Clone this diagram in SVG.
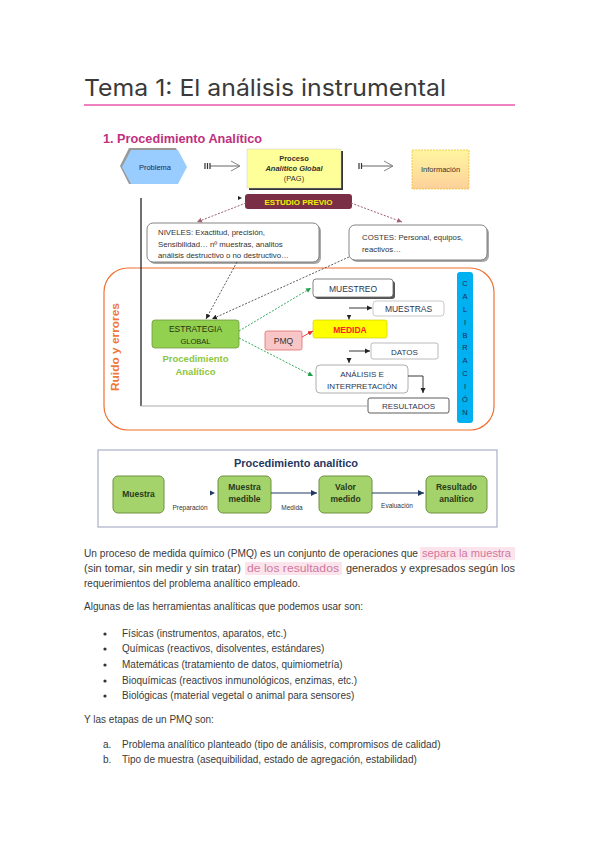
<svg xmlns="http://www.w3.org/2000/svg" width="599" height="848" viewBox="0 0 599 848">
<style>
.t{font-family:"Liberation Sans",Arial,sans-serif;fill:#333}
.b{font-family:"Liberation Sans",Arial,sans-serif;font-size:10px;fill:#3a3a3a}
.pk{fill:#d0789e}
.c{text-anchor:middle}
.box{fill:#fff;stroke:#666;stroke-width:0.8}
.sh{fill:#aaa}
.g2{fill:#a3d36a;stroke:#6f9040;stroke-width:1}
.bt{font-family:"Liberation Sans",Arial,sans-serif;font-size:8.5px;fill:#2b3a1a;text-anchor:middle;font-weight:bold}
</style>
<defs>
<marker id="ak" markerWidth="6" markerHeight="6" refX="5" refY="3" orient="auto" markerUnits="userSpaceOnUse"><path d="M0,0.5 L5,3 L0,5.5z" fill="#222"/></marker>
<marker id="ag" markerWidth="6" markerHeight="6" refX="5" refY="3" orient="auto" markerUnits="userSpaceOnUse"><path d="M0,0.5 L5,3 L0,5.5z" fill="#22a050"/></marker>
<marker id="ar" markerWidth="6" markerHeight="6" refX="5" refY="3" orient="auto" markerUnits="userSpaceOnUse"><path d="M0,0.5 L5,3 L0,5.5z" fill="#e03030"/></marker>
<marker id="am" markerWidth="6" markerHeight="6" refX="5" refY="3" orient="auto" markerUnits="userSpaceOnUse"><path d="M0,0.5 L5,3 L0,5.5z" fill="#a06070"/></marker>
<marker id="an" markerWidth="7" markerHeight="7" refX="6" refY="3.5" orient="auto" markerUnits="userSpaceOnUse"><path d="M0,0.5 L6,3.5 L0,6.5z" fill="#1f3864"/></marker>
<linearGradient id="gi" x1="0" y1="0" x2="0" y2="1"><stop offset="0" stop-color="#fff6a0"/><stop offset="1" stop-color="#fdd09a"/></linearGradient>
</defs>
<rect width="599" height="848" fill="#fff"/>

<!-- title -->
<g id="title">
<text x="84" y="96" font-family="Inter,'Noto Sans',sans-serif" font-size="23.5" fill="#3a3a3a" textLength="362" lengthAdjust="spacingAndGlyphs">Tema 1: El análisis instrumental</text>
<rect x="84" y="104" width="431" height="2" fill="#ee82c0"/>
</g>
<g id="heading">
<text x="103" y="143" class="t" font-size="12.5" font-weight="bold" style="fill:#c0307f" textLength="159" lengthAdjust="spacingAndGlyphs">1.  Procedimiento Analítico</text>
</g>

<!-- top diagram nodes -->
<g id="problema">
<polygon points="120,166 129,148 176,148 185,166 176,184 129,184" fill="#999"/>
<polygon points="122,167 131,150 178,150 187,167 178,184 131,184" fill="#99ccff"/>
<text x="155" y="170" class="t c" font-size="7.5" style="fill:#1a2a50">Problema</text>
</g>
<g id="proceso">
<rect x="249" y="151" width="94" height="39" fill="#333"/>
<rect x="247" y="149" width="94" height="39" fill="#ffff99" stroke="#ccc" stroke-width="0.5"/>
<text x="294" y="161" class="t c" font-size="7.5" font-weight="bold">Proceso</text>
<text x="294" y="170.5" class="t c" font-size="7.5" font-weight="bold" font-style="italic">Analítico Global</text>
<text x="294" y="180.5" class="t c" font-size="7.5">(PAG)</text>
</g>
<g id="informacion">
<rect x="412" y="150" width="57" height="39" fill="url(#gi)" stroke="#f0c030" stroke-width="0.8" stroke-dasharray="2,1"/>
<text x="440.5" y="172" class="t c" font-size="7.5">Información</text>
</g>
<g id="estudio">
<rect x="245" y="194" width="107" height="15" rx="3" fill="#7a2f47"/>
<text x="298.5" y="205" class="t c" font-size="8" font-weight="bold" style="fill:#f2f000">ESTUDIO PREVIO</text>
</g>
<g id="niveles">
<rect x="149" y="225" width="172" height="39" rx="6" class="sh"/>
<rect x="147" y="223" width="172" height="39" rx="6" class="box"/>
<text x="158" y="235" class="t" font-size="7.8">NIVELES: Exactitud, precisión,</text>
<text x="158" y="246.5" class="t" font-size="7.8">Sensibilidad… nº muestras, analitos</text>
<text x="158" y="258" class="t" font-size="7.8">análisis destructivo o no destructivo…</text>
</g>
<g id="costes">
<rect x="351" y="227" width="138" height="35" rx="6" class="sh"/>
<rect x="349" y="225" width="138" height="35" rx="6" class="box"/>
<text x="362" y="240" class="t" font-size="7.8">COSTES: Personal, equipos,</text>
<text x="362" y="252" class="t" font-size="7.8">reactivos…</text>
</g>
<g id="ruido">
<rect x="104" y="268" width="390" height="162" rx="24" fill="none" stroke="#f07030" stroke-width="1.2"/>
<text transform="translate(119,347) rotate(-90)" class="t c" font-size="10" font-weight="bold" style="fill:#f07838" textLength="88" lengthAdjust="spacingAndGlyphs">Ruido y errores</text>
</g>
<g id="estrategia">
<rect x="152" y="320" width="87" height="28" rx="3" fill="#92d050" stroke="#6f9b3a" stroke-width="0.8"/>
<text x="195.5" y="332" class="t c" font-size="8.5" style="fill:#263510">ESTRATEGIA</text>
<text x="195.5" y="343.5" class="t c" font-size="7.5" style="fill:#263510">GLOBAL</text>
<text x="195.5" y="362" class="t c" font-size="9.5" font-weight="bold" style="fill:#8cc63f">Procedimiento</text>
<text x="195.5" y="375" class="t c" font-size="9.5" font-weight="bold" style="fill:#8cc63f">Analítico</text>
</g>
<g id="pmq">
<rect x="265" y="331" width="37" height="19" rx="2" fill="#f8c6c6" stroke="#e07070" stroke-width="0.8"/>
<text x="283.5" y="344" class="t c" font-size="8.5">PMQ</text>
</g>
<g id="muestreo">
<rect x="315" y="281" width="80" height="18" rx="3" fill="#555"/>
<rect x="313" y="279" width="80" height="18" rx="3" class="box"/>
<text x="353" y="291.5" class="t c" font-size="8.5" style="fill:#2a3550">MUESTREO</text>
</g>
<g id="muestras">
<rect x="373" y="301" width="71" height="15" rx="3" fill="#fff" stroke="#bbb" stroke-width="0.8"/>
<text x="408.5" y="312" class="t c" font-size="8.5" style="fill:#2a3550">MUESTRAS</text>
</g>
<g id="medida">
<rect x="313" y="320" width="74" height="18" rx="2" fill="#ffff00" stroke="#c8c800" stroke-width="0.6"/>
<text x="350" y="332.5" class="t c" font-size="8.5" font-weight="bold" style="fill:#ff2020">MEDIDA</text>
</g>
<g id="datos">
<rect x="371" y="343" width="67" height="16" rx="2" fill="#fff" stroke="#aaa" stroke-width="0.8"/>
<text x="404.5" y="354.5" class="t c" font-size="8" style="fill:#2a3550">DATOS</text>
</g>
<g id="analisis">
<rect x="316" y="365" width="92" height="28" rx="4" fill="#fff" stroke="#999" stroke-width="0.8"/>
<text x="362" y="376.5" class="t c" font-size="8" style="fill:#2a3550">ANÁLISIS E</text>
<text x="362" y="389" class="t c" font-size="8" style="fill:#2a3550">INTERPRETACIÓN</text>
</g>
<g id="resultados">
<rect x="368" y="398" width="81" height="15" rx="2" fill="#fff" stroke="#333" stroke-width="0.8"/>
<text x="408.5" y="409" class="t c" font-size="8" style="fill:#2a3550">RESULTADOS</text>
</g>
<g id="calibracion">
<rect x="457" y="272" width="16" height="151" rx="3" fill="#00b0f0"/>
<g class="t c" font-size="7.5" style="fill:#1a2a50">
<text x="465" y="286">C</text><text x="465" y="299">A</text><text x="465" y="312">L</text><text x="465" y="324.5">I</text><text x="465" y="337.5">B</text><text x="465" y="350">R</text><text x="465" y="363">A</text><text x="465" y="376">C</text><text x="465" y="389">I</text><text x="465" y="402">Ó</text><text x="465" y="415">N</text>
</g>
</g>

<!-- top connectors -->
<g id="connectors-top" fill="none">
<path d="M205,163 v6 M207.5,163 v6 M210,163 v6" stroke="#333" stroke-width="1.2"/>
<path d="M210,166 H239" stroke="#555" stroke-width="0.9"/>
<path d="M231,161 L240,166 L231,171" stroke="#666" stroke-width="0.8"/>
<path d="M359,163 v6 M361.5,163 v6" stroke="#333" stroke-width="1.2"/>
<path d="M362,166 H392" stroke="#555" stroke-width="0.9"/>
<path d="M384,161 L393,166 L384,171" stroke="#666" stroke-width="0.8"/>
<path d="M238,196 l4,2 l-4,2z" fill="#222"/>
<path d="M246,203 L197,222" stroke="#a06070" stroke-width="1" stroke-dasharray="2,1.5" marker-end="url(#am)"/>
<path d="M351,203 L402,222" stroke="#a06070" stroke-width="1" stroke-dasharray="2,1.5" marker-end="url(#am)"/>
<path d="M141,198 V406" stroke="#111" stroke-width="1.2"/>
<path d="M141,406 H368" stroke="#aaa" stroke-width="1"/>
<path d="M237,262 L206,319" stroke="#333" stroke-width="0.8" stroke-dasharray="2,1.5" marker-end="url(#ak)"/>
<path d="M349,257 L212,319" stroke="#333" stroke-width="0.8" stroke-dasharray="2,1.5" marker-end="url(#ak)"/>
<path d="M239,331 L311,288" stroke="#22a050" stroke-width="0.9" stroke-dasharray="2,1.5" marker-end="url(#ag)"/>
<path d="M239,338 L313,376" stroke="#22a050" stroke-width="0.9" stroke-dasharray="2,1.5" marker-end="url(#ag)"/>
<path d="M302,337 L313,331" stroke="#e03030" stroke-width="0.9" marker-end="url(#ar)"/>
<path d="M349,308 H372" stroke="#222" stroke-width="0.9" marker-end="url(#ak)"/>
<path d="M349,316 V319.5" stroke="#222" stroke-width="0.8" marker-end="url(#ak)"/>
<path d="M349,351 H370" stroke="#222" stroke-width="0.9" marker-end="url(#ak)"/>
<path d="M349,359 V363" stroke="#222" stroke-width="0.8" marker-end="url(#ak)"/>
<path d="M408,376 H423 V393" stroke="#222" stroke-width="0.9" marker-end="url(#ak)"/>
</g>

<!-- bottom diagram -->
<g id="proc-box">
<rect x="98" y="450" width="399" height="77" fill="#fff" stroke="#a8b0c8" stroke-width="1.2"/>
<text x="296" y="467" class="t c" font-size="11" font-weight="bold" style="fill:#1f3864">Procedimiento analítico</text>
</g>
<g id="muestra">
<rect x="113" y="476" width="51" height="37" rx="5" class="g2"/>
<text x="138.5" y="497" class="bt">Muestra</text>
</g>
<g id="muestra-medible">
<rect x="218" y="476" width="53" height="37" rx="5" class="g2"/>
<text x="244.5" y="490" class="bt">Muestra</text>
<text x="244.5" y="502" class="bt">medible</text>
</g>
<g id="valor-medido">
<rect x="319" y="476" width="53" height="37" rx="5" class="g2"/>
<text x="345.5" y="490" class="bt">Valor</text>
<text x="345.5" y="502" class="bt">medido</text>
</g>
<g id="resultado-analitico">
<rect x="426" y="476" width="61" height="37" rx="5" class="g2"/>
<text x="456.5" y="490" class="bt">Resultado</text>
<text x="456.5" y="502" class="bt">analítico</text>
</g>
<g id="connectors-bottom">
<path d="M210,490.5 L215,493 L210,495.5z" fill="#1f3864"/>
<path d="M271,493 H317" stroke="#1f3864" stroke-width="1.2" marker-end="url(#an)"/>
<path d="M372,493 H424" stroke="#1f3864" stroke-width="1.2" marker-end="url(#an)"/>
<text x="190" y="510" class="t c" font-size="6.5">Preparación</text>
<text x="292" y="510" class="t c" font-size="6.5">Medida</text>
<text x="397" y="508" class="t c" font-size="6.5">Evaluación</text>
</g>

<!-- body text -->
<g id="body">
<rect x="420" y="547" width="95" height="13" fill="#fce4ec"/>
<rect x="245" y="562" width="97" height="13" fill="#fce4ec"/>
<text x="84" y="557" class="b" textLength="334" lengthAdjust="spacingAndGlyphs">Un proceso de medida químico (PMQ) es un conjunto de operaciones que</text>
<text x="422" y="557" class="b pk" textLength="89" lengthAdjust="spacingAndGlyphs">separa la muestra</text>
<text x="84" y="572" class="b" textLength="157" lengthAdjust="spacingAndGlyphs">(sin tomar, sin medir y sin tratar)</text>
<text x="247" y="572" class="b pk" textLength="92" lengthAdjust="spacingAndGlyphs">de los resultados</text>
<text x="346" y="572" class="b" textLength="169" lengthAdjust="spacingAndGlyphs">generados y expresados según los</text>
<text x="84" y="587" class="b">requerimientos del problema analítico empleado.</text>
<text x="84" y="610" class="b">Algunas de las herramientas analíticas que podemos usar son:</text>
<g fill="#333"><circle cx="105" cy="634" r="1.6"/><circle cx="105" cy="649" r="1.6"/><circle cx="105" cy="665" r="1.6"/><circle cx="105" cy="681" r="1.6"/><circle cx="105" cy="696" r="1.6"/></g>
<text x="122" y="637" class="b">Físicas (instrumentos, aparatos, etc.)</text>
<text x="122" y="652" class="b">Químicas (reactivos, disolventes, estándares)</text>
<text x="122" y="668" class="b">Matemáticas (tratamiento de datos, quimiometría)</text>
<text x="122" y="684" class="b">Bioquímicas (reactivos inmunológicos, enzimas, etc.)</text>
<text x="122" y="699" class="b">Biológicas (material vegetal o animal para sensores)</text>
<text x="84" y="723" class="b">Y las etapas de un PMQ son:</text>
<text x="103" y="748" class="b">a.</text>
<text x="122" y="748" class="b">Problema analítico planteado (tipo de análisis, compromisos de calidad)</text>
<text x="103" y="763" class="b">b.</text>
<text x="122" y="763" class="b">Tipo de muestra (asequibilidad, estado de agregación, estabilidad)</text>
</g>
</svg>
